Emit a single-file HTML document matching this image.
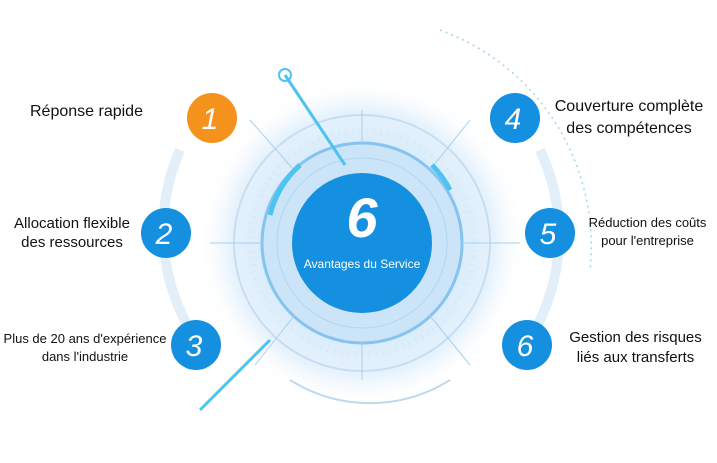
<!DOCTYPE html>
<html><head><meta charset="utf-8"><style>
body{margin:0;width:717px;height:463px;overflow:hidden;background:#fff;font-family:"Liberation Sans",sans-serif;}
.t{position:absolute;color:#111;font-size:15px;line-height:19px;}
</style></head><body>
<svg width="717" height="463" style="position:absolute;left:0;top:0">
<defs>
<radialGradient id="g" cx="0.5" cy="0.5" r="0.5">
<stop offset="0.5" stop-color="#d3e9fa"/><stop offset="0.8" stop-color="#e6f2fc"/><stop offset="1" stop-color="#ffffff" stop-opacity="0"/>
</radialGradient>
</defs>
<circle cx="362" cy="243" r="165" fill="url(#g)"/>
<circle cx="362" cy="243" r="128" fill="none" stroke="#c6def3" stroke-width="2"/>
<circle cx="362" cy="243" r="112" fill="none" stroke="#d6e8f6" stroke-width="6" stroke-dasharray="1 6"/>
<circle cx="362" cy="243" r="100" fill="#cbe4f8" stroke="#86c3ee" stroke-width="3"/>
<circle cx="362" cy="243" r="85" fill="none" stroke="#b0d6f2" stroke-width="1"/>
<g stroke="#a9d0ee" stroke-width="1">
<line x1="362" y1="143" x2="362" y2="110"/><line x1="430" y1="170" x2="470" y2="120"/>
<line x1="460" y1="243" x2="520" y2="243"/><line x1="430" y1="316" x2="470" y2="365"/>
<line x1="362" y1="343" x2="362" y2="380"/><line x1="294" y1="316" x2="255" y2="365"/>
<line x1="262" y1="243" x2="210" y2="243"/><line x1="294" y1="170" x2="250" y2="120"/>
</g>
<path d="M270 215 A100 100 0 0 1 300 165" fill="none" stroke="#4cc3f0" stroke-width="5"/>
<path d="M432 165 A100 100 0 0 1 450 190" fill="none" stroke="#4cc3f0" stroke-width="5"/>
<path d="M180 150 A200 200 0 0 0 190 330" fill="none" stroke="#e2eef8" stroke-width="10"/>
<path d="M540 150 A200 200 0 0 1 535 330" fill="none" stroke="#e2eef8" stroke-width="10"/>
<path d="M440 30 A230 230 0 0 1 590 270" fill="none" stroke="#9fd7ee" stroke-width="1.5" stroke-dasharray="2 4"/>
<path d="M290 380 A150 150 0 0 0 450 380" fill="none" stroke="#bcd9ee" stroke-width="2"/>
<line x1="285" y1="75" x2="345" y2="165" stroke="#4cc3f0" stroke-width="3"/>
<circle cx="285" cy="75" r="6" fill="none" stroke="#4cc3f0" stroke-width="2"/>
<line x1="200" y1="410" x2="270" y2="340" stroke="#4cc3f0" stroke-width="3"/>
<circle cx="362" cy="243" r="70" fill="#1590e0"/>
<text x="362" y="237" text-anchor="middle" font-family="Liberation Sans" font-weight="bold" font-style="italic" font-size="56" fill="#fff">6</text>
<text x="362" y="268" text-anchor="middle" font-family="Liberation Sans" font-size="12" fill="#fff">Avantages du Service</text>
<g font-family="Liberation Sans" font-style="italic" font-size="30" fill="#fff" text-anchor="middle">
<circle cx="212" cy="118" r="25" fill="#f5921e"/><text x="210" y="129">1</text>
<circle cx="166" cy="233" r="25" fill="#1590e0"/><text x="164" y="244">2</text>
<circle cx="196" cy="345" r="25" fill="#1590e0"/><text x="194" y="356">3</text>
<circle cx="515" cy="118" r="25" fill="#1590e0"/><text x="513" y="129">4</text>
<circle cx="550" cy="233" r="25" fill="#1590e0"/><text x="548" y="244">5</text>
<circle cx="527" cy="345" r="25" fill="#1590e0"/><text x="525" y="356">6</text>
</g>
</svg>
<div class="t" style="left:30px;top:102px;font-size:16px">Réponse rapide</div>
<div class="t" style="left:8px;top:214px;font-size:15px;text-align:center;width:128px">Allocation flexible<br>des ressources</div>
<div class="t" style="left:2px;top:330px;font-size:13px;width:166px;text-align:center;line-height:18px">Plus de 20 ans d'expérience<br>dans l'industrie</div>
<div class="t" style="left:544px;top:96px;font-size:16px;text-align:center;width:170px;line-height:22px">Couverture complète<br>des compétences</div>
<div class="t" style="left:580px;top:214px;font-size:13px;text-align:center;width:135px;line-height:18px">Réduction des coûts<br>pour l'entreprise</div>
<div class="t" style="left:558px;top:328px;font-size:15px;text-align:center;width:155px;line-height:20px">Gestion des risques<br>liés aux transferts</div>
</body></html>
